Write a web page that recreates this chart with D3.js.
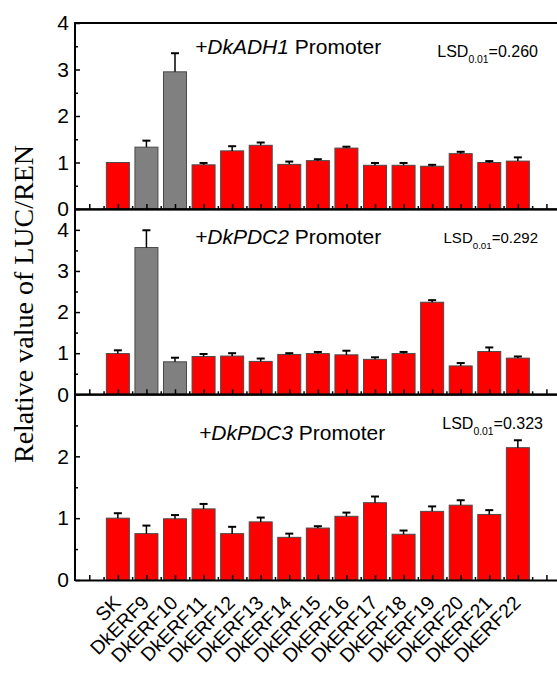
<!DOCTYPE html>
<html lang="en">
<head>
  <meta charset="UTF-8">
  <title>Relative value of LUC/REN</title>
  <script src="https://d3js.org/d3.v7.min.js"></script>
  <style>
    body { margin: 0; background: #fff; }
    svg text { font-family: Arial, "Liberation Sans", sans-serif; fill: #000; }
    .domain { stroke: #000; stroke-width: 2px; }
    .tick line { stroke: #000; stroke-width: 1.5px; }
  </style>
</head>
<body>
<div id="div_for_graph"></div>

<script>
/* ====== DATA ====== */
var categories = ["SK", "DkERF9", "DkERF10", "DkERF11", "DkERF12", "DkERF13", "DkERF14", "DkERF15",
                  "DkERF16", "DkERF17", "DkERF18", "DkERF19", "DkERF20", "DkERF21", "DkERF22"];

var adh1Values = [1.00, 1.33, 2.95, 0.95, 1.25, 1.37, 0.96, 1.04, 1.31, 0.94, 0.94, 0.92, 1.19, 1.00, 1.03];
var adh1Errors = [0.00, 0.14, 0.40, 0.04, 0.10, 0.06, 0.06, 0.03, 0.03, 0.05, 0.05, 0.03, 0.04, 0.03, 0.08];
var adh1Gray   = ["DkERF9", "DkERF10"];

var pdc2Values = [0.99, 3.57, 0.79, 0.92, 0.93, 0.80, 0.97, 0.99, 0.96, 0.85, 0.99, 2.24, 0.69, 1.04, 0.88];
var pdc2Errors = [0.08, 0.42, 0.10, 0.06, 0.07, 0.07, 0.03, 0.04, 0.10, 0.05, 0.04, 0.05, 0.07, 0.10, 0.04];
var pdc2Gray   = ["DkERF9", "DkERF10"];

var pdc3Values = [1.00, 0.75, 0.99, 1.15, 0.75, 0.94, 0.69, 0.84, 1.03, 1.25, 0.74, 1.11, 1.21, 1.06, 2.14];
var pdc3Errors = [0.08, 0.13, 0.06, 0.08, 0.11, 0.07, 0.06, 0.03, 0.06, 0.10, 0.06, 0.08, 0.08, 0.07, 0.12];
var pdc3Gray   = [];

var genes   = ["DkADH1", "DkPDC2", "DkPDC3"];
var lsdText = ["0.260", "0.292", "0.323"];
var yMaxes  = [4, 4.5, 3];
var yMajor  = [[0, 1, 2, 3, 4], [0, 1, 2, 3, 4], [0, 1, 2]];
var yMinor  = [[0.5, 1.5, 2.5, 3.5], [0.5, 1.5, 2.5, 3.5], [0.5, 1.5, 2.5]];

/* ====== LAYOUT ====== */
var W = 557, H = 674;
var left = 75, right = 560.7;
var panelTop    = [23, 209.3, 394.5];
var panelBottom = [209, 394.3, 580];
var titleX  = [195, 195, 199], titleY = [54, 244, 440];
var lsdX    = [538, 538, 543], lsdY = [56.7, 243.3, 429.3], lsdSize = [16, 15, 16];

var panels = [
  {values: adh1Values, errors: adh1Errors, gray: adh1Gray},
  {values: pdc2Values, errors: pdc2Errors, gray: pdc2Gray},
  {values: pdc3Values, errors: pdc3Errors, gray: pdc3Gray}
];

var svg = d3.select("#div_for_graph")
  .append("svg")
    .attr("width", W)
    .attr("height", H);

// x: one empty slot on each side of the bars
var x = d3.scaleLinear().domain([-1.5, categories.length + 0.5]).range([left, right]);
var barW = 23;

panels.forEach(function(p, k) {
  var y = d3.scaleLinear().domain([0, yMaxes[k]]).range([panelBottom[k], panelTop[k]]);
  var g = svg.append("g");

  var rows = p.values.map(function(v, i) {
    return {i: i, v: v, e: p.errors[i], gray: p.gray.indexOf(categories[i]) >= 0};
  });

  /* ========== bars =================== */
  g.selectAll(".bar")
    .data(rows)
    .enter()
    .append("rect")
      .attr("x", function(d) { return x(d.i) - barW / 2; })
      .attr("y", function(d) { return y(d.v); })
      .attr("width", barW)
      .attr("height", function(d) { return y(0) - y(d.v); })
      .attr("fill", function(d) { return d.gray ? "#808080" : "#ff0000"; })
      .attr("stroke", "#4a4a4a")
      .attr("stroke-width", 1);

  /* ========== error bars (upper only) =================== */
  var eb = g.selectAll(".err")
    .data(rows.filter(function(d) { return d.e > 0; }))
    .enter()
    .append("g");

  eb.append("line")
    .attr("x1", function(d) { return x(d.i); })
    .attr("x2", function(d) { return x(d.i); })
    .attr("y1", function(d) { return y(d.v); })
    .attr("y2", function(d) { return y(d.v + d.e); })
    .attr("stroke", "#000").attr("stroke-width", 1.5);

  eb.append("line")
    .attr("x1", function(d) { return x(d.i) - 4; })
    .attr("x2", function(d) { return x(d.i) + 4; })
    .attr("y1", function(d) { return y(d.v + d.e); })
    .attr("y2", function(d) { return y(d.v + d.e); })
    .attr("stroke", "#000").attr("stroke-width", 2);

  /* ========== y axis (ticks inward) =================== */
  g.append("g")
    .attr("transform", "translate(" + left + ",0)")
    .call(d3.axisLeft(y).tickValues(yMajor[k]).tickSize(-5).tickSizeOuter(0).tickPadding(6).tickFormat(d3.format("d")))
    .call(function(a) { a.select(".domain").attr("d", "M0," + (panelBottom[k] + 1) + "V" + (panelTop[k] - 1)); })
    .selectAll("text")
      .style("font-size", "21px");

  g.append("g")
    .attr("transform", "translate(" + left + ",0)")
    .call(d3.axisLeft(y).tickValues(yMinor[k]).tickSize(-3).tickFormat(""))
    .select(".domain").remove();

  /* ========== bottom axis + top border =================== */
  g.append("g")
    .attr("transform", "translate(0," + panelBottom[k] + ")")
    .call(d3.axisBottom(x).tickValues(d3.range(-1, categories.length + 1)).tickSize(-5).tickSizeOuter(0).tickFormat(""));

  g.append("g")
    .attr("transform", "translate(0," + panelBottom[k] + ")")
    .call(d3.axisBottom(x).tickValues(d3.range(-0.5, categories.length + 0.5)).tickSize(-3).tickFormat(""))
    .select(".domain").remove();

  g.append("line")
    .attr("x1", left).attr("x2", right)
    .attr("y1", panelTop[k]).attr("y2", panelTop[k])
    .attr("stroke", "#000").attr("stroke-width", 2);

  g.append("line")
    .attr("x1", right).attr("x2", right)
    .attr("y1", panelTop[k]).attr("y2", panelBottom[k])
    .attr("stroke", "#000").attr("stroke-width", 2);

  /* ========== panel title =================== */
  var t = g.append("text")
    .attr("x", titleX[k]).attr("y", titleY[k])
    .style("font-size", "21px");
  t.append("tspan").style("font-style", "italic").text("+" + genes[k]);
  t.append("tspan").text(" Promoter");

  var l = g.append("text")
    .attr("x", lsdX[k]).attr("y", lsdY[k])
    .attr("text-anchor", "end")
    .style("font-size", lsdSize[k] + "px");
  l.append("tspan").text("LSD");
  l.append("tspan").attr("dy", 6).style("font-size", (lsdSize[k] * 0.65) + "px").text("0.01");
  l.append("tspan").attr("dy", -6).text("=" + lsdText[k]);
});

/* ========== category labels =================== */
svg.selectAll(".xlab")
  .data(categories)
  .enter()
  .append("text")
    .attr("text-anchor", "end")
    .attr("transform", function(d, i) { return "translate(" + (x(i) + 4) + ",604)rotate(-45)"; })
    .style("font-size", "19.5px")
    .text(function(d) { return d; });

/* ========== y title =================== */
svg.append("text")
  .attr("transform", "translate(33,304)rotate(-90)")
  .attr("text-anchor", "middle")
  .style("font-family", "'Liberation Serif', 'Times New Roman', serif")
  .style("font-size", "28px")
  .text("Relative value of LUC/REN");
</script>
</body>
</html>
